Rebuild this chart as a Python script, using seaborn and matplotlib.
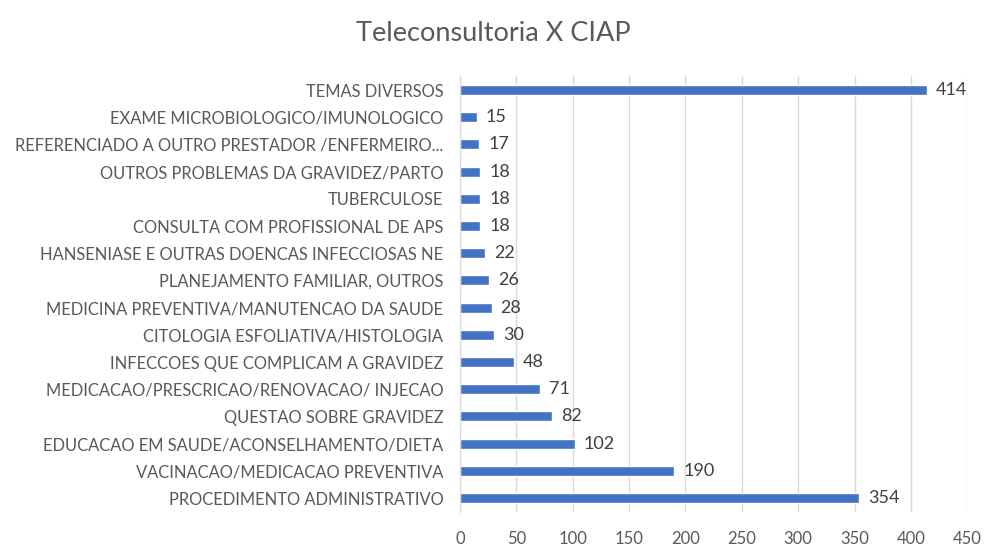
import numpy as np
import pandas as pd
import matplotlib
matplotlib.use("Agg")
import matplotlib.pyplot as plt
import seaborn as sns

# dados (de cima para baixo)
categorias = [
    "TEMAS DIVERSOS",
    "EXAME MICROBIOLOGICO/IMUNOLOGICO",
    "REFERENCIADO A OUTRO PRESTADOR /ENFERMEIRO...",
    "OUTROS PROBLEMAS DA GRAVIDEZ/PARTO",
    "TUBERCULOSE",
    "CONSULTA COM PROFISSIONAL DE APS",
    "HANSENIASE E OUTRAS DOENCAS INFECCIOSAS NE",
    "PLANEJAMENTO FAMILIAR, OUTROS",
    "MEDICINA PREVENTIVA/MANUTENCAO DA SAUDE",
    "CITOLOGIA ESFOLIATIVA/HISTOLOGIA",
    "INFECCOES QUE COMPLICAM A GRAVIDEZ",
    "MEDICACAO/PRESCRICAO/RENOVACAO/ INJECAO",
    "QUESTAO SOBRE GRAVIDEZ",
    "EDUCACAO EM SAUDE/ACONSELHAMENTO/DIETA",
    "VACINACAO/MEDICACAO PREVENTIVA",
    "PROCEDIMENTO ADMINISTRATIVO",
]
valores = [414, 15, 17, 18, 18, 18, 22, 26, 28, 30, 48, 71, 82, 102, 190, 354]
ticks_x = [0, 50, 100, 150, 200, 250, 300, 350, 400, 450]

df = pd.DataFrame({"cat": categorias, "n": valores})

sns.set_style("white")
plt.rcParams["font.family"] = ["Lato", "DejaVu Sans"]

fig = plt.figure(figsize=(9.86, 5.46), dpi=100)
ax = fig.add_axes([0.4665, 0.063, 0.5145, 0.797])

sns.barplot(data=df, x="n", y="cat", orient="h", color="#4472C4",
            saturation=1, width=0.37, ax=ax)

for i, v in enumerate(valores):
    ax.text(v + 8, i, str(v), va="center", ha="left", fontsize=13, color="#404040")

ax.set_xlim(0, 450)
ax.set_xticks(ticks_x)
ax.grid(axis="x", color="#D9D9D9", linewidth=1)
ax.set_axisbelow(True)
for s in ["top", "right", "bottom"]:
    ax.spines[s].set_visible(False)
ax.spines["left"].set_color("#D9D9D9")
ax.tick_params(axis="both", length=0, colors="#595959")
ax.tick_params(axis="y", labelsize=11.9, pad=12)
ax.tick_params(axis="x", labelsize=12, pad=14)
ax.set_xlabel("")
ax.set_ylabel("")
fig.suptitle("Teleconsultoria X CIAP", fontsize=19.5, color="#595959", y=0.962)

fig.savefig("out.png", dpi=100)
